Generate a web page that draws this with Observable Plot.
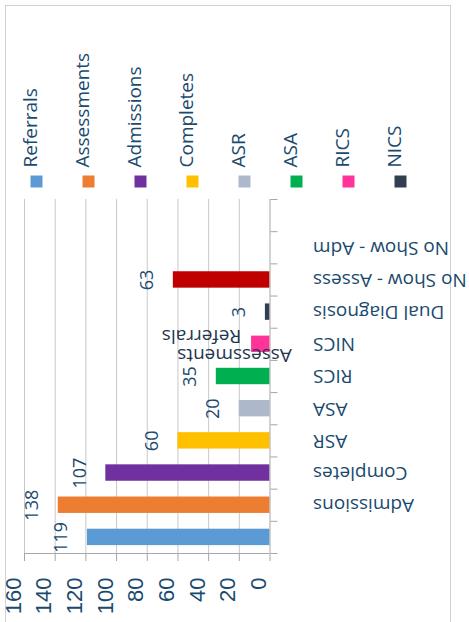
<!DOCTYPE html>
<html><head><meta charset="utf-8">
<script src="https://cdn.jsdelivr.net/npm/d3@7"></script>
<script src="https://cdn.jsdelivr.net/npm/@observablehq/plot@0.6"></script>
<style>
html,body{margin:0;padding:0;background:#fff;overflow:hidden;width:469px;height:622px}
#wrap{position:relative;width:469px;height:622px;overflow:hidden}
#frame{position:absolute;left:5px;top:5px;width:446px;height:700px;border:1.5px solid #d0d0d0;box-sizing:border-box}
#legend{position:absolute;left:0;top:0}
#chart{position:absolute;left:0;top:190px}
svg{overflow:visible}
</style></head><body>
<div id="wrap"><div id="frame"></div><div id="legend"></div><div id="chart"></div></div>
<script>
const categories = ["Referrals","Assessments","Admissions","Completes","ASR","ASA","RICS","NICS","Dual Diagnosis","No Show - Assess","No Show - Adm"];
const values = [119,138,107,60,20,35,12,3,63,null,null];
const valueLabels = ["119","138","107","60","20","35","","3","63","",""];
const barColors = ["#5B9BD5","#ED7D31","#7030A0","#FFC000","#ADB9CA","#00B050","#FF3399","#333F50","#C00000",null,null];
const slotLabels = ["","Admissions","Completes","ASR","ASA","RICS","NICS","Dual Diagnosis","No Show - Assess","No Show - Adm",""];
const legendNames = ["Referrals","Assessments","Admissions","Completes","ASR","ASA","RICS","NICS"];
const legendColors = ["#5B9BD5","#ED7D31","#7030A0","#FFC000","#ADB9CA","#00B050","#FF3399","#333F50"];
const xTicks = [0,20,40,60,80,100,120,140,160];
const strayLabels = ["Assessments","Referrals"];

const dark = "#1a4a6e";
const font = "Open Sans";

const rows = categories.map((c,i)=>({c, i, v: values[i], lab: valueLabels[i], color: barColors[i], slot: slotLabels[i]}));
const bars = rows.filter(d=>d.v!=null);
const ricsRow = rows[categories.indexOf("RICS")];

const legend = Plot.plot({
  width:469, height:190, marginLeft:10, marginRight:43, marginTop:0, marginBottom:23,
  x:{type:"point", domain:legendNames, padding:0.5, axis:null},
  color:{type:"identity"},
  style:{background:"transparent", overflow:"visible"},
  marks:[
    Plot.dot(legendNames, {x:d=>d, frameAnchor:"bottom", dy:14, symbol:"square", r:6.77, fill:(d,i)=>legendColors[i], stroke:null}),
    Plot.text(legendNames, {x:d=>d, frameAnchor:"bottom", text:d=>d, rotate:-90, textAnchor:"start", fill:dark, fontSize:19, fontFamily:font})
  ]
});
document.getElementById("legend").appendChild(legend);

const chart = Plot.plot({
  width:469, height:432, marginLeft:24, marginRight:199.5, marginTop:9, marginBottom:69,
  x:{domain:[0,160], reverse:true, axis:null},
  y:{domain:[0,11], axis:null},
  color:{type:"identity"},
  style:{background:"transparent", overflow:"visible"},
  marks:[
    Plot.gridX(xTicks.filter(t=>t>0), {stroke:"#c8c8c8", strokeOpacity:1}),
    Plot.rectX(bars, {x1:0, x2:"v", y1:d=>d.i+0.245, y2:d=>d.i+0.755, fill:"color"}),
    Plot.ruleX([0], {stroke:"#a6a6a6"}),
    Plot.ruleY([0], {stroke:"#a6a6a6"}),
    Plot.axisX({ticks:xTicks, tickSize:8, fill:"none", stroke:"#a6a6a6", label:null}),
    Plot.axisY({anchor:"right", ticks:d3.range(12), tickSize:7, fill:"none", stroke:"#a6a6a6", label:null}),
    Plot.text(xTicks, {x:d=>d, text:d=>String(d), frameAnchor:"bottom", rotate:-90, textAnchor:"end", dy:24, dx:-4, fill:dark, fontSize:22, fontFamily:"Liberation Sans"}),
    Plot.text(bars, {x:"v", y:d=>d.i+0.5, text:"lab", rotate:-90, textAnchor:"middle", dx:-26, fill:dark, fontSize:18, fontFamily:font}),
    Plot.text(rows, {y:d=>d.i+0.5, text:"slot", frameAnchor:"right", dx:43, rotate:180, textAnchor:"end", fill:dark, fontSize:19, fontFamily:font}),
    Plot.text([strayLabels[0]], {y:()=>ricsRow.i+0.5, text:d=>d, frameAnchor:"right", dx:-35.5, dy:11, rotate:180, textAnchor:"middle", fill:"#1f3550", fontSize:19, fontFamily:font}),
    Plot.text([strayLabels[1]], {y:()=>ricsRow.i+0.5, text:d=>d, frameAnchor:"right", dx:-68.5, dy:-8, rotate:180, textAnchor:"middle", fill:"#1f3550", fontSize:19, fontFamily:font})
  ]
});
document.getElementById("chart").appendChild(chart);
</script>
</body></html>
